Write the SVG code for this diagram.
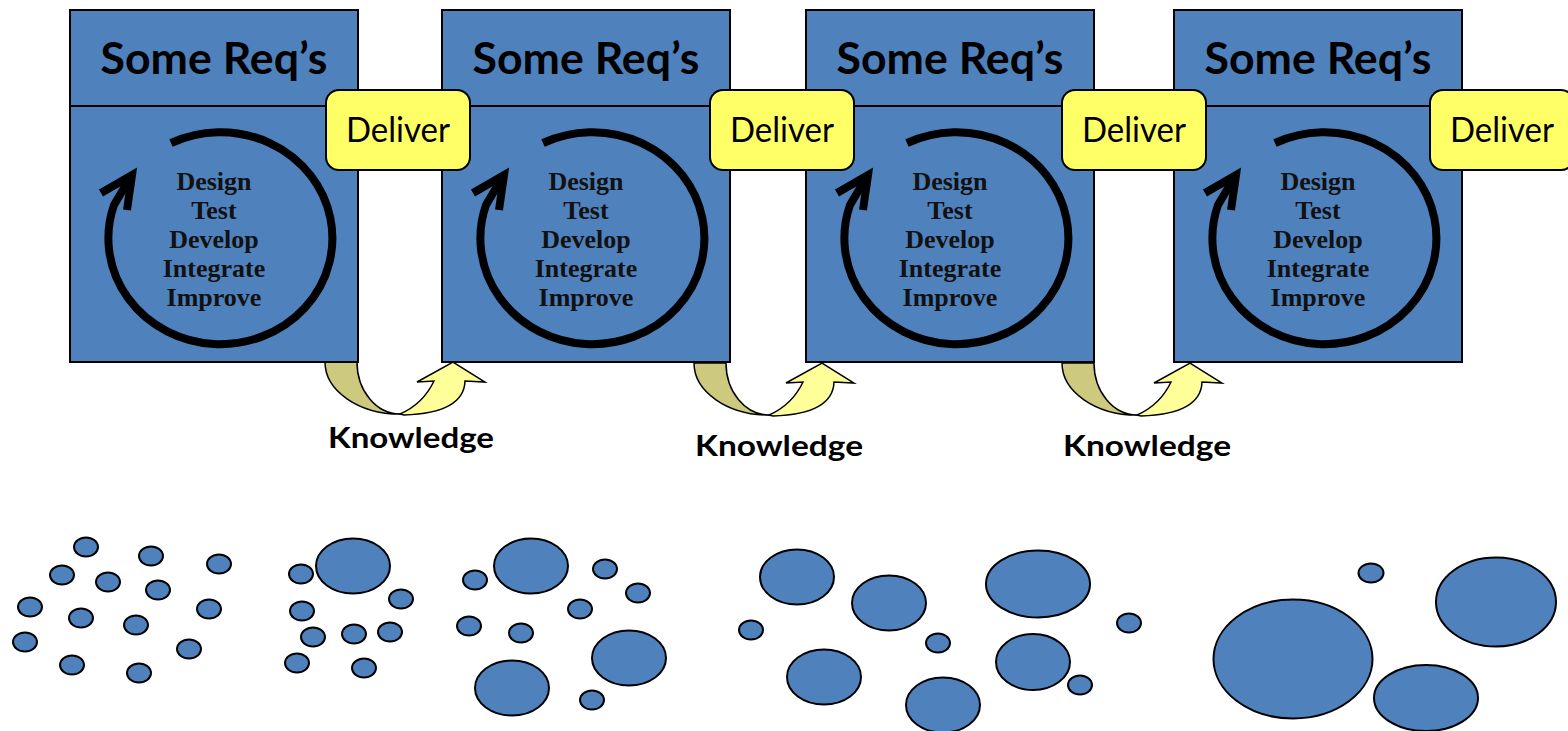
<svg xmlns="http://www.w3.org/2000/svg" width="1568" height="731" viewBox="0 0 1568 731">
  <style>
    .box { fill: #4F81BD; stroke: #000; stroke-width: 2; }
    .divider { stroke: #000; stroke-width: 2; }
    .title { font-family: "Lato", "Open Sans", sans-serif; font-weight: bold; font-size: 43px; fill: #000; text-anchor: middle; }
    .cycle { fill: none; stroke: #000; stroke-width: 8; stroke-linecap: butt; stroke-linejoin: miter; }
    .steps { font-family: "Liberation Serif", "Times New Roman", serif; font-weight: bold; font-size: 26px; fill: #111; text-anchor: middle; }
    .deliver { fill: #FFFF66; stroke: #000; stroke-width: 2; }
    .deliver-text { font-family: "Lato", "Open Sans", sans-serif; font-size: 34px; fill: #000; text-anchor: middle; }
    .back { fill: #CDCA80; stroke: #000; stroke-width: 1.5; }
    .front { fill: #FFFF99; stroke: #000; stroke-width: 1.5; stroke-linejoin: miter; }
    .knowledge { font-family: "Lato", "Open Sans", sans-serif; font-weight: bold; font-size: 28px; fill: #000; }
    .bubble { fill: #4F81BD; stroke: #000; stroke-width: 2; }
  </style>
  <defs>
    <!-- curved "knowledge" arrow, origin at left edge of its back face on the box bottom -->
    <g id="curvedArrow">
      <path class="back" d="M 0 0 A 75 52 0 0 0 75 52 A 43 52 0 0 1 32 0 Z"/>
      <path class="front" d="M 75 52 Q 98 42 109 19 L 92 20 L 128 0 L 160 20 L 140 19 Q 139 51 79 53 Z"/>
    </g>
    <!-- iteration cycle drawn inside each requirement box, origin at box top-left -->
    <g id="cycle">
      <path class="cycle" d="M 101 143 A 112 106 0 1 1 44 205 L 60 178"/>
      <path class="cycle" d="M 31 193 L 62 175 L 57 210"/>
      <text class="steps" x="144" y="190">Design</text>
      <text class="steps" x="144" y="219">Test</text>
      <text class="steps" x="144" y="248">Develop</text>
      <text class="steps" x="144" y="277">Integrate</text>
      <text class="steps" x="144" y="306">Improve</text>
    </g>
  </defs>

  <!-- connectors: knowledge carried from one increment to the next -->
  <g id="connectors">
    <use href="#curvedArrow" transform="translate(325,362)"/>
    <use href="#curvedArrow" transform="translate(694,363)"/>
    <use href="#curvedArrow" transform="translate(1062,363)"/>
  </g>

  <!-- requirement increments -->
  <g id="box1" transform="translate(70,10)">
    <rect class="box" x="0" y="0" width="288" height="352"/>
    <line class="divider" x1="0" y1="96" x2="288" y2="96"/>
    <text class="title" x="144" y="64" textLength="227" lengthAdjust="spacingAndGlyphs">Some Req’s</text>
    <use href="#cycle" transform="translate(0,-10)"/>
  </g>
  <g id="box2" transform="translate(442,10)">
    <rect class="box" x="0" y="0" width="288" height="352"/>
    <line class="divider" x1="0" y1="96" x2="288" y2="96"/>
    <text class="title" x="144" y="64" textLength="227" lengthAdjust="spacingAndGlyphs">Some Req’s</text>
    <use href="#cycle" transform="translate(0,-10)"/>
  </g>
  <g id="box3" transform="translate(806,10)">
    <rect class="box" x="0" y="0" width="288" height="352"/>
    <line class="divider" x1="0" y1="96" x2="288" y2="96"/>
    <text class="title" x="144" y="64" textLength="227" lengthAdjust="spacingAndGlyphs">Some Req’s</text>
    <use href="#cycle" transform="translate(0,-10)"/>
  </g>
  <g id="box4" transform="translate(1174,10)">
    <rect class="box" x="0" y="0" width="288" height="352"/>
    <line class="divider" x1="0" y1="96" x2="288" y2="96"/>
    <text class="title" x="144" y="64" textLength="227" lengthAdjust="spacingAndGlyphs">Some Req’s</text>
    <use href="#cycle" transform="translate(0,-10)"/>
  </g>

  <!-- delivery tags -->
  <g id="deliver1">
    <rect class="deliver" x="326" y="90" width="144" height="80" rx="13"/>
    <text class="deliver-text" x="398" y="142" textLength="104" lengthAdjust="spacingAndGlyphs">Deliver</text>
  </g>
  <g id="deliver2">
    <rect class="deliver" x="710" y="90" width="144" height="80" rx="13"/>
    <text class="deliver-text" x="782" y="142" textLength="104" lengthAdjust="spacingAndGlyphs">Deliver</text>
  </g>
  <g id="deliver3">
    <rect class="deliver" x="1062" y="90" width="144" height="80" rx="13"/>
    <text class="deliver-text" x="1134" y="142" textLength="104" lengthAdjust="spacingAndGlyphs">Deliver</text>
  </g>
  <g id="deliver4">
    <rect class="deliver" x="1430" y="90" width="144" height="80" rx="13"/>
    <text class="deliver-text" x="1502" y="142" textLength="104" lengthAdjust="spacingAndGlyphs">Deliver</text>
  </g>

  <!-- knowledge labels -->
  <g id="knowledge-labels">
    <text class="knowledge" x="328" y="448" textLength="166" lengthAdjust="spacingAndGlyphs">Knowledge</text>
    <text class="knowledge" x="695" y="456" textLength="168" lengthAdjust="spacingAndGlyphs">Knowledge</text>
    <text class="knowledge" x="1063" y="456" textLength="168" lengthAdjust="spacingAndGlyphs">Knowledge</text>
  </g>

  <!-- growing clusters of bubbles -->
  <g id="bubbles">
    <!-- many small pieces -->
    <ellipse class="bubble" cx="86" cy="547" rx="12" ry="9.5"/>
    <ellipse class="bubble" cx="151" cy="556" rx="12" ry="9.5"/>
    <ellipse class="bubble" cx="219" cy="564" rx="12" ry="9.5"/>
    <ellipse class="bubble" cx="62" cy="575" rx="12" ry="9.5"/>
    <ellipse class="bubble" cx="108" cy="582" rx="12" ry="9.5"/>
    <ellipse class="bubble" cx="158" cy="590" rx="12" ry="9.5"/>
    <ellipse class="bubble" cx="30" cy="607" rx="12" ry="9.5"/>
    <ellipse class="bubble" cx="209" cy="609" rx="12" ry="9.5"/>
    <ellipse class="bubble" cx="81" cy="618" rx="12" ry="9.5"/>
    <ellipse class="bubble" cx="136" cy="625" rx="12" ry="9.5"/>
    <ellipse class="bubble" cx="25" cy="642" rx="12" ry="9.5"/>
    <ellipse class="bubble" cx="189" cy="649" rx="12" ry="9.5"/>
    <ellipse class="bubble" cx="72" cy="665" rx="12" ry="9.5"/>
    <ellipse class="bubble" cx="139" cy="673" rx="12" ry="9.5"/>

    <!-- first larger piece -->
    <ellipse class="bubble" cx="353" cy="566" rx="37" ry="27.5"/>
    <ellipse class="bubble" cx="301" cy="574" rx="12" ry="9.5"/>
    <ellipse class="bubble" cx="401" cy="599" rx="12" ry="9.5"/>
    <ellipse class="bubble" cx="302" cy="611" rx="12" ry="9.5"/>
    <ellipse class="bubble" cx="313" cy="637" rx="12" ry="9.5"/>
    <ellipse class="bubble" cx="354" cy="634" rx="12" ry="9.5"/>
    <ellipse class="bubble" cx="390" cy="632" rx="12" ry="9.5"/>
    <ellipse class="bubble" cx="297" cy="663" rx="12" ry="9.5"/>
    <ellipse class="bubble" cx="364" cy="668" rx="12" ry="9.5"/>

    <!-- three larger pieces -->
    <ellipse class="bubble" cx="531" cy="566" rx="37" ry="27.5"/>
    <ellipse class="bubble" cx="629" cy="658" rx="37" ry="27.5"/>
    <ellipse class="bubble" cx="512" cy="688" rx="37" ry="27.5"/>
    <ellipse class="bubble" cx="475" cy="580" rx="12" ry="9.5"/>
    <ellipse class="bubble" cx="605" cy="569" rx="12" ry="9.5"/>
    <ellipse class="bubble" cx="638" cy="593" rx="12" ry="9.5"/>
    <ellipse class="bubble" cx="580" cy="609" rx="12" ry="9.5"/>
    <ellipse class="bubble" cx="469" cy="626" rx="12" ry="9.5"/>
    <ellipse class="bubble" cx="521" cy="633" rx="12" ry="9.5"/>
    <ellipse class="bubble" cx="592" cy="700" rx="12" ry="9.5"/>

    <!-- mostly larger pieces -->
    <ellipse class="bubble" cx="797" cy="577" rx="37" ry="27.5"/>
    <ellipse class="bubble" cx="889" cy="603" rx="37" ry="27.5"/>
    <ellipse class="bubble" cx="824" cy="677" rx="37" ry="27.5"/>
    <ellipse class="bubble" cx="943" cy="705" rx="37" ry="27.5"/>
    <ellipse class="bubble" cx="1038" cy="584" rx="52" ry="33.5"/>
    <ellipse class="bubble" cx="1033" cy="662" rx="37" ry="28"/>
    <ellipse class="bubble" cx="751" cy="630" rx="12" ry="9.5"/>
    <ellipse class="bubble" cx="938" cy="643" rx="12" ry="9.5"/>
    <ellipse class="bubble" cx="1129" cy="623" rx="12" ry="9.5"/>
    <ellipse class="bubble" cx="1080" cy="685" rx="12" ry="9.5"/>

    <!-- few large pieces -->
    <ellipse class="bubble" cx="1293" cy="659" rx="79.5" ry="59.5"/>
    <ellipse class="bubble" cx="1371" cy="573" rx="12.5" ry="9.5"/>
    <ellipse class="bubble" cx="1496" cy="602" rx="60" ry="44.5"/>
    <ellipse class="bubble" cx="1426" cy="698" rx="52" ry="33"/>
  </g>
</svg>
